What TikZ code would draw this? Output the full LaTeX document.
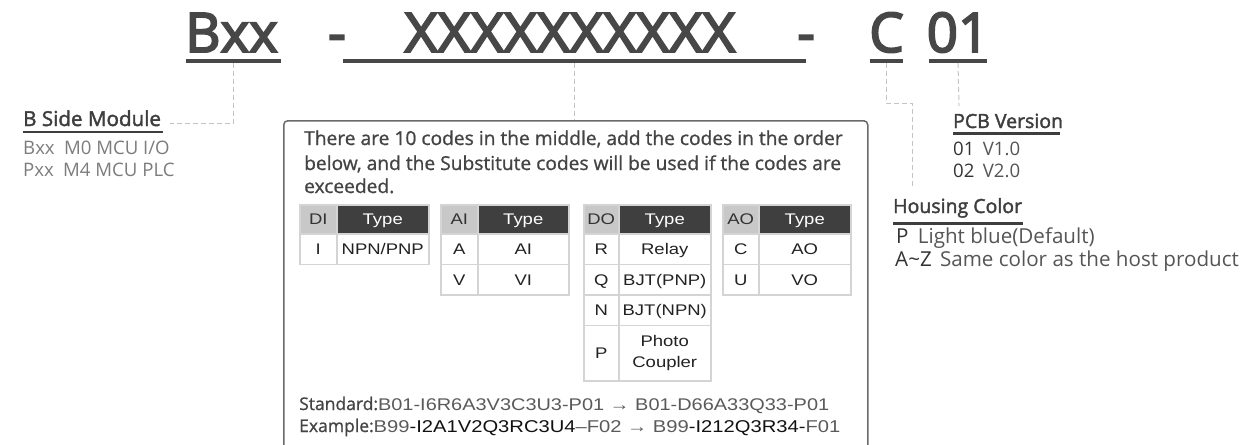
\documentclass[tikz,border=0pt]{standalone}
\usepackage{fontspec}
\setmainfont{Open Sans}
\newfontfamily\titlefont[FakeBold=3.5]{Open Sans}
\newfontfamily\labelfont[FakeBold=2]{Open Sans}
\newfontfamily\bodyfont[FakeBold=1]{Open Sans}
\newfontfamily\tabfont[FakeStretch=1.2]{Liberation Sans}
\newfontfamily\codefont[FakeStretch=1.18]{Liberation Sans}

\definecolor{titlegray}{HTML}{474747}
\definecolor{headgray}{HTML}{3E3E3E}
\definecolor{itemgray}{HTML}{7C7C7C}
\definecolor{hcgray}{HTML}{555555}
\definecolor{darkitem}{HTML}{333333}
\definecolor{guidegray}{HTML}{C4C4C4}
\definecolor{boxline}{HTML}{6A6A6A}
\definecolor{bodyink}{HTML}{444444}
\definecolor{cellline}{HTML}{D4D4D4}
\definecolor{codefill}{HTML}{C8C8C8}
\definecolor{typefill}{HTML}{3F3F3F}
\definecolor{cellink}{HTML}{222222}
\definecolor{codegray}{HTML}{5A5A5A}
\definecolor{codedark}{HTML}{111111}

\tikzset{
  titletext/.style={font=\titlefont\fontsize{54.6}{60}\selectfont, text=titlegray, inner sep=0pt, anchor=base},
  bar/.style={fill=titlegray, draw=none, inner sep=0pt, minimum height=3.3pt},
  guide/.style={draw=guidegray, line width=1pt, dash pattern=on 5pt off 3pt},
  headtext/.style={font=\labelfont\fontsize{19.5}{22}\selectfont, text=headgray, inner sep=0pt, anchor=base west},
  headrule/.style={draw=headgray, line width=2.2pt},
  itemtext/.style={font=\fontsize{18.6}{22}\selectfont, text=itemgray, inner sep=0pt, anchor=base west},
  bodytext/.style={font=\bodyfont\fontsize{19.2}{22}\selectfont, text=bodyink, inner sep=0pt, anchor=base west},
  codebox/.style={draw=boxline, line width=1.5pt, rounded corners=4pt, anchor=north west,
                  minimum width=584pt, minimum height=360pt, inner sep=0pt},
  cell/.style={draw=cellline, line width=1.5pt, fill=white, anchor=north west, inner sep=0pt,
               font=\tabfont\fontsize{15.4}{22}\selectfont, text=cellink, align=center,
               text height=11pt, text depth=0pt},
  hcode/.style={cell, fill=codefill, text=darkitem},
  htype/.style={cell, fill=typefill, text=white},
}
\newcommand\tcell[7]{\node[#1, minimum width=#4pt, minimum height=#5pt] (#6) at (#2,#3) {#7};}

\begin{document}
\begin{tikzpicture}[x=1pt,y=-1pt]
\useasboundingbox (0,0) rectangle (1241,444);

% ---- part number ----
\node[titletext] (tbxx) at (231.5,52) {Bxx};
\node[titletext] (tdash1) at (337,52) {-};
\node[titletext] (txxx) at (570,52) {\scalebox{1.05}[1]{XXXXXXXXXX}};
\node[titletext] (tdash2) at (806,52) {-};
\node[titletext] (tc) at (886.5,52) {C};
\node[titletext] (t01) at (958,52) {01};

\node[bar, minimum width=95pt]  (ubxx) at (233.5,61) {};
\node[bar, minimum width=463pt] (uxxx) at (574.5,61) {};
\node[bar, minimum width=33pt]  (uc)   at (886.5,61) {};
\node[bar, minimum width=58pt]  (u01)  at (958,61) {};

% ---- B side module ----
\node[headtext, font=\labelfont\fontsize{20.6}{22}\selectfont] (bsm) at (23,126) {B Side Module};
\draw[headrule] (23,132) -- (163,132);
\node[itemtext] (bsm1) at (23,154) {Bxx\hspace{0.5em}M0 MCU I/O};
\node[itemtext] (bsm2) at (23,176) {Pxx\hspace{0.5em}M4 MCU PLC};
\coordinate (bsmend) at (170,123);

% ---- PCB version ----
\node[headtext] (pcb) at (953,128) {PCB Version};
\draw[headrule] (953,133.5) -- (1060,133.5);
\node[itemtext, text=hcgray] (pcb1) at (953,155) {\textcolor{darkitem}{01}\hspace{0.45em}V1.0};
\node[itemtext, text=hcgray] (pcb2) at (953,177) {\textcolor{darkitem}{02}\hspace{0.45em}V2.0};
\coordinate (pcbend) at (959,106);

% ---- housing color ----
\node[headtext] (hc) at (893,213) {Housing Color};
\draw[headrule] (893,223.5) -- (1023,223.5);
\node[itemtext, text=hcgray, font=\fontsize{20.6}{22}\selectfont] (hc1) at (896,243) {\textcolor{darkitem}{P}\hspace{0.45em}Light blue(Default)};
\node[itemtext, text=hcgray, font=\fontsize{20.6}{22}\selectfont] (hc2) at (895,266) {\textcolor{darkitem}{A\textasciitilde Z}\hspace{0.4em}Same color as the host product};
\coordinate (hcturn) at (912,103);
\coordinate (hcend) at (912,189);

% ---- middle code box ----
\node[codebox] (box) at (283,120) {};
\node[bodytext] (intro1) at (304,145) {There are 10 codes in the middle, add the codes in the order};
\node[bodytext] (intro2) at (304,170) {below, and the Substitute codes will be used if the codes are};
\node[bodytext] (intro3) at (304,193) {exceeded.};

% DI table
\tcell{hcode}{299}{204}{37}{29}{dih}{DI}
\tcell{htype}{336}{204}{92}{29}{dit}{Type}
\tcell{cell}{299}{233}{37}{30.5}{di1c}{I}
\tcell{cell}{336}{233}{92}{30.5}{di1t}{NPN/PNP}
% AI table
\tcell{hcode}{440}{204}{37}{29}{aih}{AI}
\tcell{htype}{477}{204}{91}{29}{ait}{Type}
\tcell{cell}{440}{233}{37}{30.5}{ai1c}{A}
\tcell{cell}{477}{233}{91}{30.5}{ai1t}{AI}
\tcell{cell}{440}{263.5}{37}{30.5}{ai2c}{V}
\tcell{cell}{477}{263.5}{91}{30.5}{ai2t}{VI}
% DO table
\tcell{hcode}{583}{204}{35}{29}{doh}{DO}
\tcell{htype}{618}{204}{92}{29}{dot}{Type}
\tcell{cell}{583}{233}{35}{30.5}{do1c}{R}
\tcell{cell}{618}{233}{92}{30.5}{do1t}{Relay}
\tcell{cell}{583}{263.5}{35}{30.5}{do2c}{Q}
\tcell{cell}{618}{263.5}{92}{30.5}{do2t}{BJT(PNP)}
\tcell{cell}{583}{294}{35}{30.5}{do3c}{N}
\tcell{cell}{618}{294}{92}{30.5}{do3t}{BJT(NPN)}
\tcell{cell}{583}{324.5}{35}{55.5}{do4c}{P}
\node[cell, minimum width=92pt, minimum height=55.5pt, text height={}, text depth={}] (do4t) at (618,324.5) {Photo\\[-1pt]Coupler};
% AO table
\tcell{hcode}{722}{204}{36}{29}{aoh}{AO}
\tcell{htype}{758}{204}{92}{29}{aot}{Type}
\tcell{cell}{722}{233}{36}{30.5}{ao1c}{C}
\tcell{cell}{758}{233}{92}{30.5}{ao1t}{AO}
\tcell{cell}{722}{263.5}{36}{30.5}{ao2c}{U}
\tcell{cell}{758}{263.5}{92}{30.5}{ao2t}{VO}

% examples
\node[bodytext, font=\bodyfont\fontsize{17.5}{20}\selectfont] (std) at (299,410)
  {Standard:{\codefont\fontsize{16.9}{20}\selectfont\color{codegray}B01-I6R6A3V3C3U3-P01 → B01-D66A33Q33-P01}};
\node[bodytext, font=\bodyfont\fontsize{17.5}{20}\selectfont] (exm) at (299,432)
  {Example:{\codefont\fontsize{17.1}{20}\selectfont\color{codegray}B99\textcolor{codedark}{-I2A1V2Q3RC3U4}–F02 → B99\textcolor{codedark}{-I212Q3R34-}F01}};

% ---- guide lines ----
\draw[guide] (ubxx.south) |- (bsmend);
\draw[guide] (uxxx.south) -- (uxxx.south |- box.north);
\draw[guide] (uc.south) |- (hcturn) -- (hcend);
\draw[guide] (u01.south) -- (pcbend);
\end{tikzpicture}
\end{document}
